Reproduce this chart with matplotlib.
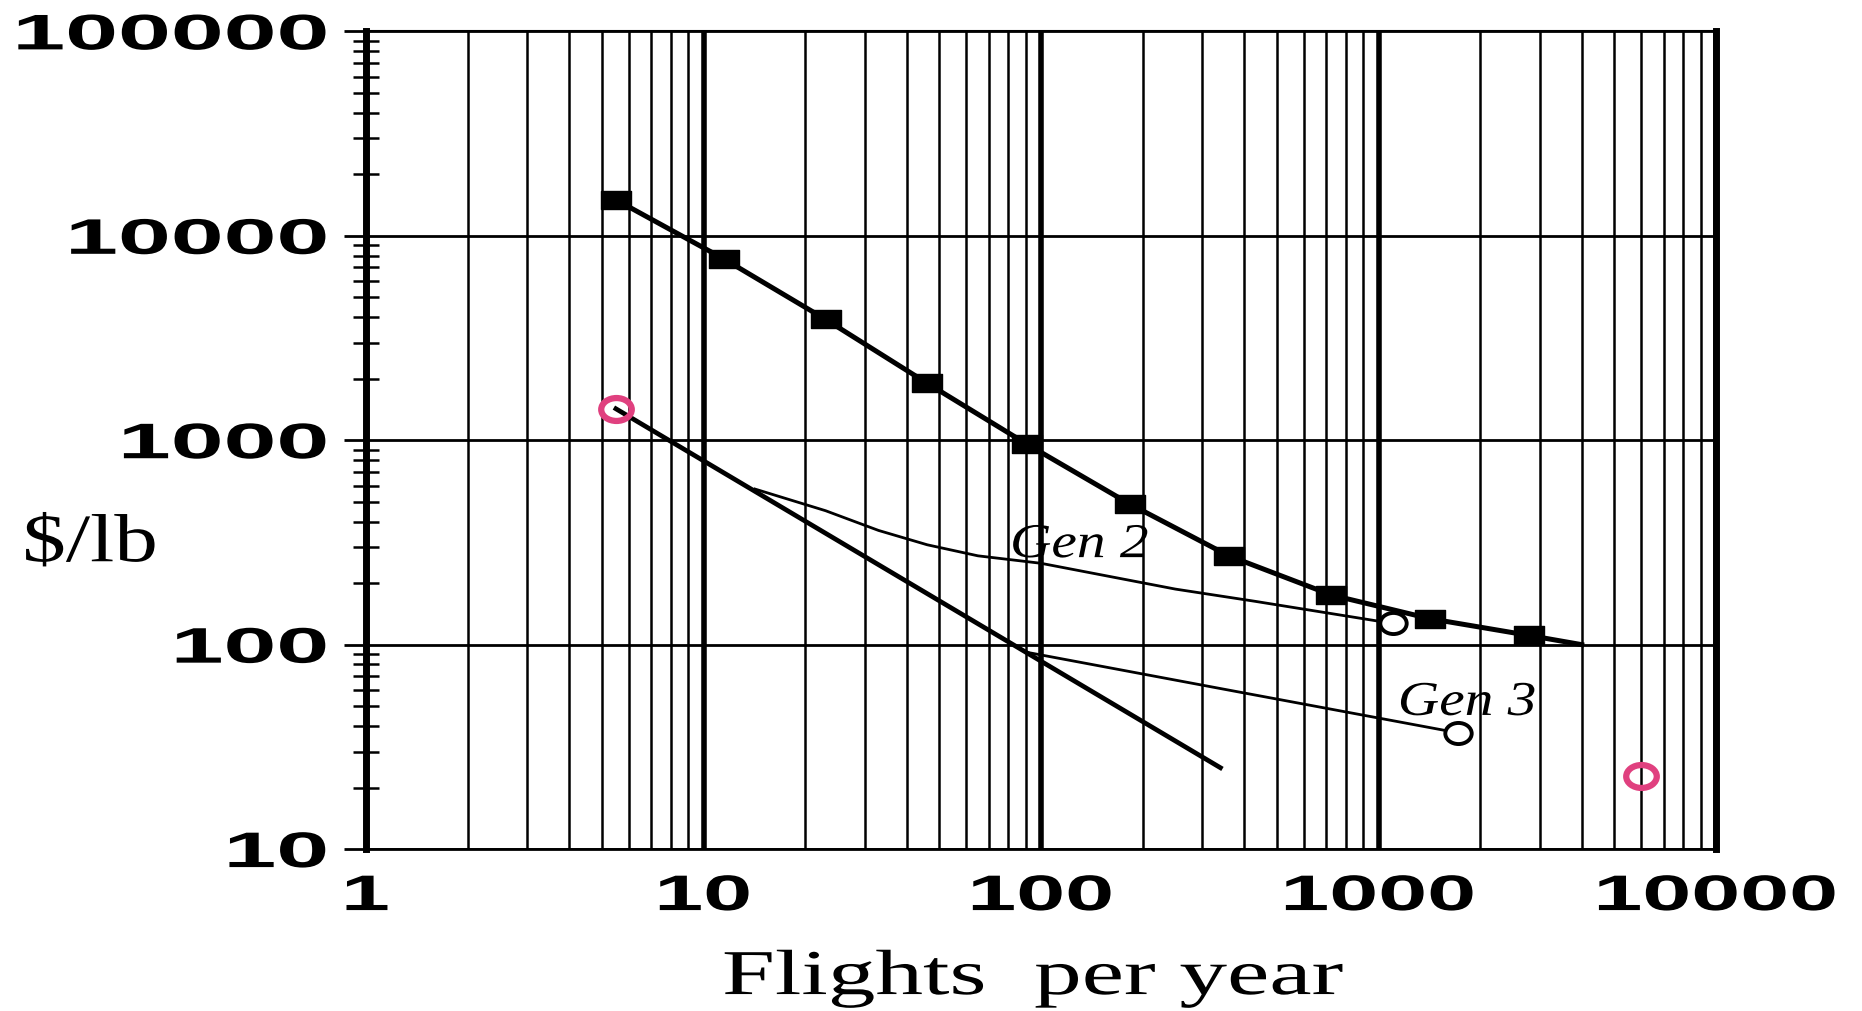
import matplotlib
matplotlib.use('Agg')
import matplotlib.pyplot as plt
from matplotlib import patheffects
from matplotlib.path import Path
from matplotlib.transforms import Affine2D
from matplotlib.ticker import LogLocator, NullFormatter

# cost per pound against flight rate
sq_x = [5.5, 11.5, 23, 46, 91, 183, 360, 725, 1420, 2790]
sq_y = [15000, 7700, 3900, 1900, 955, 488, 272, 175, 134, 111]
sq_tail_x = [4000]
sq_tail_y = [100]

main_x = [5.5, 340]
main_y = [1425, 25]

gen2_x = [14.2, 23, 33, 46, 65, 100, 250, 430, 1100]
gen2_y = [577, 452, 362, 308, 272, 250, 187, 163, 127]

gen3_x = [90, 340, 1725]
gen3_y = [92, 61, 37]

pink_x = [5.5, 6000]
pink_y = [1425, 22.8]

xticks = [1, 10, 100, 1000, 10000]
yticks = [10, 100, 1000, 10000, 100000]


class Stretch(patheffects.AbstractPathEffect):
    """Widen text horizontally about its left edge, centre or right edge."""

    def __init__(self, sx, anchor='center'):
        super().__init__()
        self.sx = sx
        self.anchor = anchor

    def draw_path(self, renderer, gc, tpath, affine, rgbFace=None):
        ext = tpath.get_extents(affine)
        x0 = {'left': ext.x0, 'center': 0.5 * (ext.x0 + ext.x1), 'right': ext.x1}[self.anchor]
        affine = affine + Affine2D().translate(-x0, 0).scale(self.sx, 1).translate(x0, 0)
        renderer.draw_path(gc, tpath, affine, rgbFace)


def oval(ratio):
    circ = Path.unit_circle()
    return Path(circ.vertices * [1, ratio], circ.codes)


block = Path([(-1, -0.6), (1, -0.6), (1, 0.6), (-1, 0.6), (-1, -0.6)],
             [Path.MOVETO, Path.LINETO, Path.LINETO, Path.LINETO, Path.CLOSEPOLY])

fig = plt.figure(figsize=(18.62, 10.12), dpi=100)
ax = fig.add_axes([0.1966, 0.160, 0.725, 0.808])
ax.set_xscale('log')
ax.set_yscale('log')
ax.set_xlim(1, 10000)
ax.set_ylim(10, 100000)

# curves
ax.plot(sq_x + sq_tail_x, sq_y + sq_tail_y, color='k', lw=3.6, zorder=3)
ax.plot(sq_x, sq_y, ls='none', marker=block, ms=22, color='k', zorder=4)
ax.plot(main_x, main_y, color='k', lw=3.4, zorder=3)
ax.plot(gen2_x, gen2_y, color='k', lw=2, zorder=3)
ax.plot(gen3_x, gen3_y, color='k', lw=2, zorder=3)
ax.plot([gen2_x[-1], gen3_x[-1]], [gen2_y[-1], gen3_y[-1]], ls='none',
        marker=oval(0.8), ms=19, mfc='white', mec='k', mew=2.8, zorder=4)
ax.plot(pink_x, pink_y, ls='none', marker=oval(0.75), ms=22, mfc='none',
        mec='#e0407f', mew=4.5, zorder=5)

ax.text(130, 268, 'Gen 2', fontfamily='Liberation Serif', fontstyle='italic',
        fontsize=35, ha='center', va='baseline', path_effects=[Stretch(1.18)], zorder=6)
ax.text(1832, 45.3, 'Gen 3', fontfamily='Liberation Serif', fontstyle='italic',
        fontsize=35, ha='center', va='baseline', path_effects=[Stretch(1.18)], zorder=6)

# ticks and grid
tick_kw = dict(fontfamily='Liberation Sans', fontweight='bold', fontsize=36)
ax.set_xticks(xticks, [str(v) for v in xticks], path_effects=[Stretch(1.76, 'center')], **tick_kw)
ax.set_yticks(yticks, [str(v) for v in yticks], path_effects=[Stretch(1.9, 'right')], **tick_kw)
for axis in (ax.xaxis, ax.yaxis):
    axis.set_minor_locator(LogLocator(base=10, subs=range(2, 10), numticks=20))
    axis.set_minor_formatter(NullFormatter())

ax.grid(True, which='major', axis='x', color='k', lw=4)
ax.grid(True, which='minor', axis='x', color='k', lw=1.8)
ax.grid(True, which='major', axis='y', color='k', lw=2)
ax.tick_params(axis='x', which='both', length=0, pad=18)
ax.tick_params(axis='y', which='major', direction='out', length=16, width=2, pad=12)
ax.tick_params(axis='y', which='minor', direction='inout', length=19, width=1.8)

ax.spines['left'].set_linewidth(5)
ax.spines['right'].set_linewidth(5)
ax.spines['top'].set_linewidth(1.5)
ax.spines['bottom'].set_linewidth(2)

ax.set_xlabel('Flights  per year', fontfamily='Liberation Serif', fontsize=46,
              va='baseline', path_effects=[Stretch(1.49)])
ax.xaxis.set_label_coords(0.494, -0.1773)
ax.set_ylabel('$/lb', fontfamily='Liberation Serif', fontsize=49, rotation=0,
              ha='center', va='baseline', path_effects=[Stretch(1.28)])
ax.yaxis.set_label_coords(-0.2044, 0.352)

plt.savefig('out.png', dpi=100)
